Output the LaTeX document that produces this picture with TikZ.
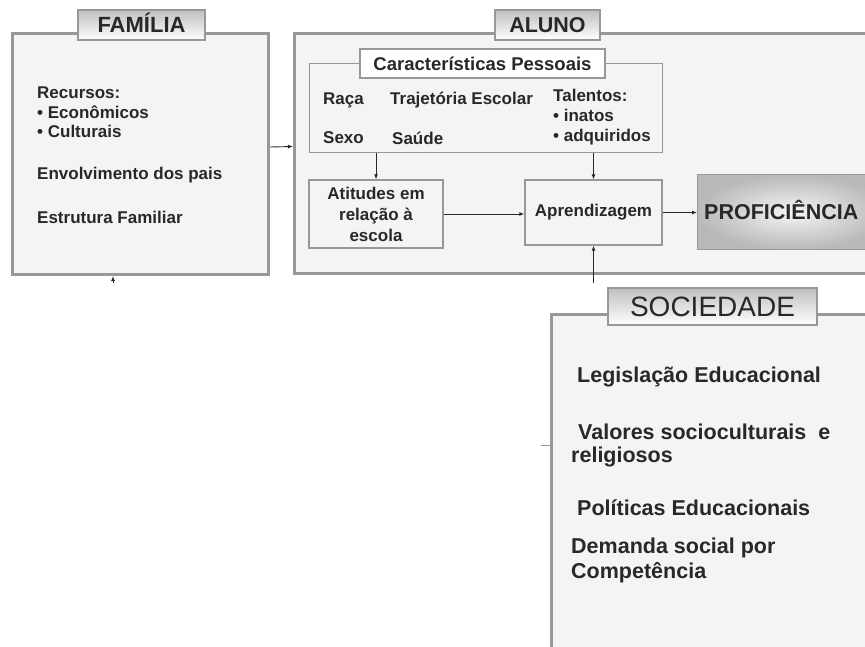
\documentclass[tikz,border=0pt]{standalone}
\usepackage{fontspec}
\setmainfont{Liberation Sans}
\usetikzlibrary{arrows.meta}
\definecolor{boxgray}{RGB}{152,152,152}
\definecolor{boxfill}{RGB}{244,244,244}
\definecolor{inkgray}{RGB}{40,40,40}
\tikzset{
  bigbox/.style={draw=boxgray, line width=3pt, fill=boxfill, inner sep=0pt, anchor=north west},
  smallbox/.style={draw=boxgray, line width=1.3pt, fill=boxfill, inner sep=0pt},
  tabbox/.style={draw=boxgray, line width=1.3pt, top color=gray!50, bottom color=white,
    inner sep=0pt, text=inkgray},
  item/.style={font=\bfseries\fontsize{17}{19.5}\selectfont, text=inkgray, align=left,
    anchor=west, inner sep=0pt},
  bigitem/.style={font=\bfseries\fontsize{21.5}{25}\selectfont, text=inkgray, align=left,
    anchor=west, inner sep=0pt},
  arr/.style={-{Latex[length=5pt,width=4pt]}, line width=0.9pt, draw=inkgray}
}
\begin{document}
\begin{tikzpicture}[x=1pt,y=-1pt]
  \clip (0,0) rectangle (865,646);
  \fill[white] (0,0) rectangle (865,646);
  % the three big frames
  \node[bigbox, minimum width=256, minimum height=241] (fam) at (11,32) {};
  \node[bigbox, minimum width=590, minimum height=240] (aluno) at (293,32) {};
  \node[bigbox, minimum width=330, minimum height=350] (soc) at (550,313) {};
  \node[tabbox, minimum width=127, minimum height=30, text height=15.8pt, text depth=0pt,
    font=\bfseries\fontsize{22}{22}\selectfont] (famtab) at (141.5,25) {FAMÍLIA};
  \node[tabbox, minimum width=105, minimum height=30, font=\bfseries\fontsize{21.5}{22}\selectfont]
    (alunotab) at (547.5,25) {ALUNO};
  \node[tabbox, minimum width=209, minimum height=37, font=\fontsize{28}{28}\selectfont]
    (soctab) at (712.5,306.5) {SOCIEDADE};
  % familia
  \node[item] (recursos) at (37,112.5) {Recursos:\\• Econômicos\\• Culturais};
  \node[item] (envolv) at (37,175) {Envolvimento dos pais};
  \node[item] (estrut) at (37,217) {Estrutura Familiar};
  % aluno
  \node[smallbox, minimum width=353, minimum height=89, anchor=north west] (cp) at (309,63) {};
  \node[tabbox, top color=white, bottom color=white, minimum width=245, minimum height=29,
    font=\bfseries\fontsize{18.5}{19}\selectfont] (cptab) at (482.5,63.5) {Características Pessoais};
  \node[item] (raca) at (323,100) {Raça};
  \node[item] (traj) at (390,100) {Trajetória Escolar};
  \node[item] (sexo) at (323,138) {Sexo};
  \node[item] (saude) at (392,138) {Saúde};
  \node[item, font=\bfseries\fontsize{17}{20}\selectfont] (talentos) at (553,117)
    {Talentos:\\• inatos\\• adquiridos};
  \node[smallbox, minimum width=134, minimum height=68, align=center,
    font=\bfseries\fontsize{17}{21}\selectfont, text=inkgray] (atitudes) at (376,214)
    {Atitudes em\\relação à\\escola};
  \node[smallbox, minimum width=137, minimum height=65,
    font=\bfseries\fontsize{17}{20}\selectfont, text=inkgray] (aprend) at (593.5,212.5) {Aprendizagem};
  \node[draw=boxgray, line width=1.3pt, inner color=gray!8, outer color=gray!55,
    minimum width=190, minimum height=75, anchor=north west] (prof) at (697,174) {};
  \node[font=\bfseries\fontsize{21.5}{22}\selectfont, text=inkgray, anchor=west, inner sep=0pt,
    text height=15.4pt, text depth=0pt] (proftxt) at (704,211.5) {PROFICIÊNCIA};
  % sociedade
  \node[bigitem] (legis) at (577,377) {Legislação Educacional};
  \node[bigitem] (valores) at (578,432) {Valores socioculturais \ e};
  \node[bigitem] (relig) at (571,457) {religiosos};
  \node[bigitem] (polit) at (577,508) {Políticas Educacionais};
  \node[bigitem] (demanda) at (571,560) {Demanda social por\\Competência};
  % connectors
  \coordinate (socin) at (593.5,283);
  \coordinate (famin) at (113,283);
  \coordinate (socout) at (541,445);
  \draw[arr] ([yshift=7pt]fam.east) -- ([yshift=7pt]aluno.west);
  \draw[arr] (atitudes.north |- cp.south) -- (atitudes.north);
  \draw[arr] (aprend.north |- cp.south) -- (aprend.north);
  \draw[arr] (atitudes.east) -- (atitudes.east -| aprend.west);
  \draw[arr] (aprend.east) -- (aprend.east -| prof.west);
  \draw[arr] (socin) -- (aprend.south);
  \draw[arr] (famin) -- (famin |- fam.south);
  \draw[boxgray, line width=0.6pt] (socout) -- (socout -| soc.west);
\end{tikzpicture}
\end{document}
